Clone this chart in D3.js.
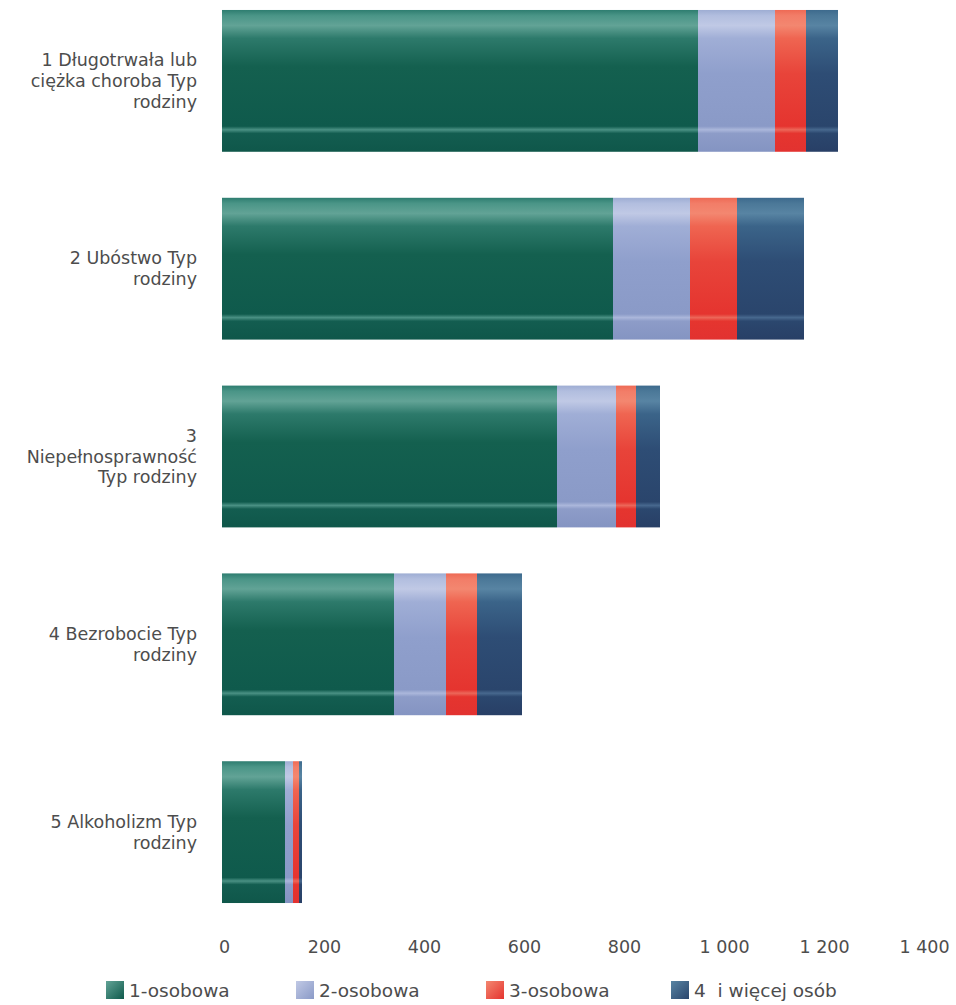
<!DOCTYPE html>
<html>
<head>
<meta charset="utf-8">
<script src="https://cdn.jsdelivr.net/npm/d3@7"></script>
<style>
  html, body { margin: 0; padding: 0; background: #ffffff; }
  svg { display: block; }
  text { font-family: "DejaVu Sans", "Open Sans", sans-serif; fill: #4d4d4d; }
</style>
</head>
<body>
<svg id="chart" width="956" height="1005"></svg>
<script>
// ---- data ----
const categories = ["1", "2", "3", "4", "5"];
const categoryLabels = [
  ["1 Długotrwała lub", "ciężka choroba Typ", "rodziny"],
  ["2 Ubóstwo Typ", "rodziny"],
  ["3", "Niepełnosprawność", "Typ rodziny"],
  ["4 Bezrobocie Typ", "rodziny"],
  ["5 Alkoholizm Typ", "rodziny"]
];
const seriesNames = ["1-osobowa", "2-osobowa", "3-osobowa", "4  i więcej osób"];
const s1 = [952, 782, 670, 344, 126];
const s2 = [154, 154, 118, 104, 16];
const s3 = [62, 94, 40, 62, 12];
const s4 = [64, 134, 48, 90, 6];
const tickValues = [0, 200, 400, 600, 800, 1000, 1200, 1400];
const tickLabels = ["0", "200", "400", "600", "800", "1 000", "1 200", "1 400"];

// ---- styling (gradient stops per series) ----
const gradients = [
  [[0, "#2e7d70"], [0.04, "#4a9587"], [0.11, "#62a396"], [0.2, "#2d7a6b"], [0.4, "#14604f"], [0.82, "#0f5a4c"], [0.845, "#4a9184"], [0.87, "#135d50"], [1, "#0f574a"]],
  [[0, "#9eadd3"], [0.04, "#b2bedf"], [0.11, "#c0c9e5"], [0.2, "#a0aed6"], [0.45, "#8f9fcc"], [0.82, "#8a9ac7"], [0.845, "#abb7db"], [0.87, "#8d9cc8"], [1, "#8494c2"]],
  [[0, "#ee6a55"], [0.04, "#f27d68"], [0.11, "#f38770"], [0.2, "#ef6551"], [0.45, "#e8443a"], [0.82, "#e5342f"], [0.845, "#ec6759"], [0.87, "#e5352f"], [1, "#e23230"]],
  [[0, "#3d6a8d"], [0.04, "#4b7898"], [0.11, "#5884a3"], [0.2, "#3b6489"], [0.45, "#2e4d75"], [0.82, "#2a456c"], [0.845, "#47688e"], [0.87, "#2b476e"], [1, "#283f66"]]
];

const svg = d3.select("#chart");
const defs = svg.append("defs");
gradients.forEach((stops, i) => {
  const g = defs.append("linearGradient").attr("id", "grad" + i)
    .attr("x1", 0).attr("y1", 0).attr("x2", 0).attr("y2", 1);
  stops.forEach(s => g.append("stop").attr("offset", s[0]).attr("stop-color", s[1]));
  const lg = defs.append("linearGradient").attr("id", "lgrad" + i)
    .attr("x1", 0).attr("y1", 0).attr("x2", 1).attr("y2", 1);
  lg.append("stop").attr("offset", 0).attr("stop-color", stops[2][1]);
  lg.append("stop").attr("offset", 1).attr("stop-color", stops[5][1]);
});

const x = d3.scaleLinear().domain([0, 1400]).range([222, 922]);
const y = d3.scaleBand().domain(categories).range([-13.5, 926.5])
  .paddingInner(0.245).paddingOuter(0.125);

const table = categories.map((c, i) => ({ cat: c, v0: s1[i], v1: s2[i], v2: s3[i], v3: s4[i] }));
const stack = d3.stack().keys(["v0", "v1", "v2", "v3"])(table);

const g = svg.append("g");
stack.forEach((layer, si) => {
  g.selectAll(".bar" + si).data(layer).enter().append("rect")
    .attr("x", d => x(d[0]))
    .attr("y", d => y(d.data.cat))
    .attr("width", d => x(d[1]) - x(d[0]))
    .attr("height", y.bandwidth())
    .attr("fill", "url(#grad" + si + ")");
});

// category labels
categories.forEach((c, i) => {
  const lines = categoryLabels[i];
  const cy = y(c) + y.bandwidth() / 2;
  const t = svg.append("text").attr("text-anchor", "end").style("font-size", "17.5px");
  lines.forEach((ln, j) => {
    t.append("tspan").attr("x", 197)
      .attr("y", cy + 6 + (j - (lines.length - 1) / 2) * 20.8)
      .text(ln);
  });
});

// x axis (labels only)
const axis = d3.axisBottom(x).tickValues(tickValues)
  .tickFormat((d, i) => tickLabels[i]).tickSize(0).tickPadding(0);
const ag = svg.append("g").attr("transform", "translate(2,940)").call(axis);
ag.select(".domain").remove();
ag.selectAll("text").style("font-size", "17.5px").attr("fill", "#555").attr("dy", "0.76em")
  .style("font-family", "'DejaVu Sans', sans-serif");

// legend
const legendX = [106, 296, 486, 671];
const lg = svg.append("g");
seriesNames.forEach((n, i) => {
  lg.append("rect").attr("x", legendX[i]).attr("y", 981).attr("width", 18).attr("height", 18)
    .attr("fill", "url(#lgrad" + i + ")");
  lg.append("text").attr("x", legendX[i] + 23).attr("y", 997)
    .style("font-size", "18.5px").style("white-space", "pre").text(n);
});
</script>
</body>
</html>
